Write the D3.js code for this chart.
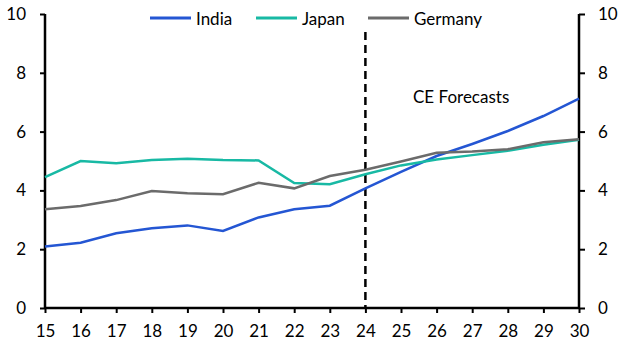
<!DOCTYPE html>
<html><head><meta charset="utf-8">
<script src="https://cdn.jsdelivr.net/npm/d3@7"></script>
<style>body{margin:0;background:#fff}svg{display:block;font-family:Lato,"Open Sans",sans-serif}</style>
</head><body><svg id="c" width="631" height="356"></svg>
<script>
const years = [15,16,17,18,19,20,21,22,23,24,25,26,27,28,29,30];
const india = [2.09,2.22,2.54,2.71,2.81,2.62,3.08,3.36,3.48,4.07,4.63,5.17,5.58,6.02,6.53,7.12];
const japan = [4.45,5.0,4.92,5.03,5.08,5.03,5.02,4.25,4.21,4.55,4.85,5.05,5.2,5.35,5.55,5.72];
const germany = [3.36,3.47,3.67,3.98,3.9,3.87,4.26,4.07,4.49,4.7,4.98,5.28,5.32,5.4,5.64,5.74];
const yTicks = [0,2,4,6,8,10];
const seriesNames = ["India","Japan","Germany"];
const seriesColors = ["#2456d3","#18b9a4","#6b6b6b"];
const forecastYear = 24;
const annotation = "CE Forecasts";

const svg = d3.select("#c");
const L = 45, R = 579, T = 14, B = 308;
const x = d3.scaleLinear().domain([15,30]).range([L,R]);
const y = d3.scaleLinear().domain([0,10]).range([B,T]);

const fs = "17px";
const gl = svg.append("g").attr("transform",`translate(${L},0)`).call(d3.axisLeft(y).tickValues(yTicks).tickSize(5).tickPadding(14));
const gr = svg.append("g").attr("transform",`translate(${R},0)`).call(d3.axisRight(y).tickValues(yTicks).tickSize(6).tickPadding(13));
const gb = svg.append("g").attr("transform",`translate(0,${B})`).call(d3.axisBottom(x).tickValues(years).tickFormat(d3.format("d")).tickSize(5).tickPadding(12));
[gl,gr,gb].forEach(g=>{
  g.selectAll(".domain").attr("stroke","#000").attr("stroke-width",2.5);
  g.selectAll(".tick line").attr("stroke","#000").attr("stroke-width",2);
  g.selectAll("text").attr("font-size",fs).attr("fill","#000").attr("font-family","Lato,'Open Sans',sans-serif");
});
gl.select(".domain").attr("d",`M0,${T}V${B}`);
gr.select(".domain").attr("d",`M0,${T}V${B}`);
gb.select(".domain").attr("d",`M${L},0H${R}`);

svg.append("line").attr("x1",x(forecastYear)).attr("x2",x(forecastYear)).attr("y1",32).attr("y2",B)
  .attr("stroke","#000").attr("stroke-width",2.5).attr("stroke-dasharray","8,5");
svg.append("text").attr("x",413).attr("y",103).attr("font-size",fs).text(annotation);

const data = [india,japan,germany];
const line = d3.line().x((d,i)=>x(years[i])).y(d=>y(d));
data.forEach((s,k)=>{
  svg.append("path").datum(s).attr("d",line).attr("fill","none").attr("stroke",seriesColors[k]).attr("stroke-width",2.5);
});

const lx = [150,256,368];
seriesNames.forEach((n,k)=>{
  svg.append("line").attr("x1",lx[k]).attr("x2",lx[k]+41).attr("y1",18).attr("y2",18).attr("stroke",seriesColors[k]).attr("stroke-width",3);
  svg.append("text").attr("x",lx[k]+46).attr("y",25).attr("font-size",fs).text(n);
});
</script></body></html>
